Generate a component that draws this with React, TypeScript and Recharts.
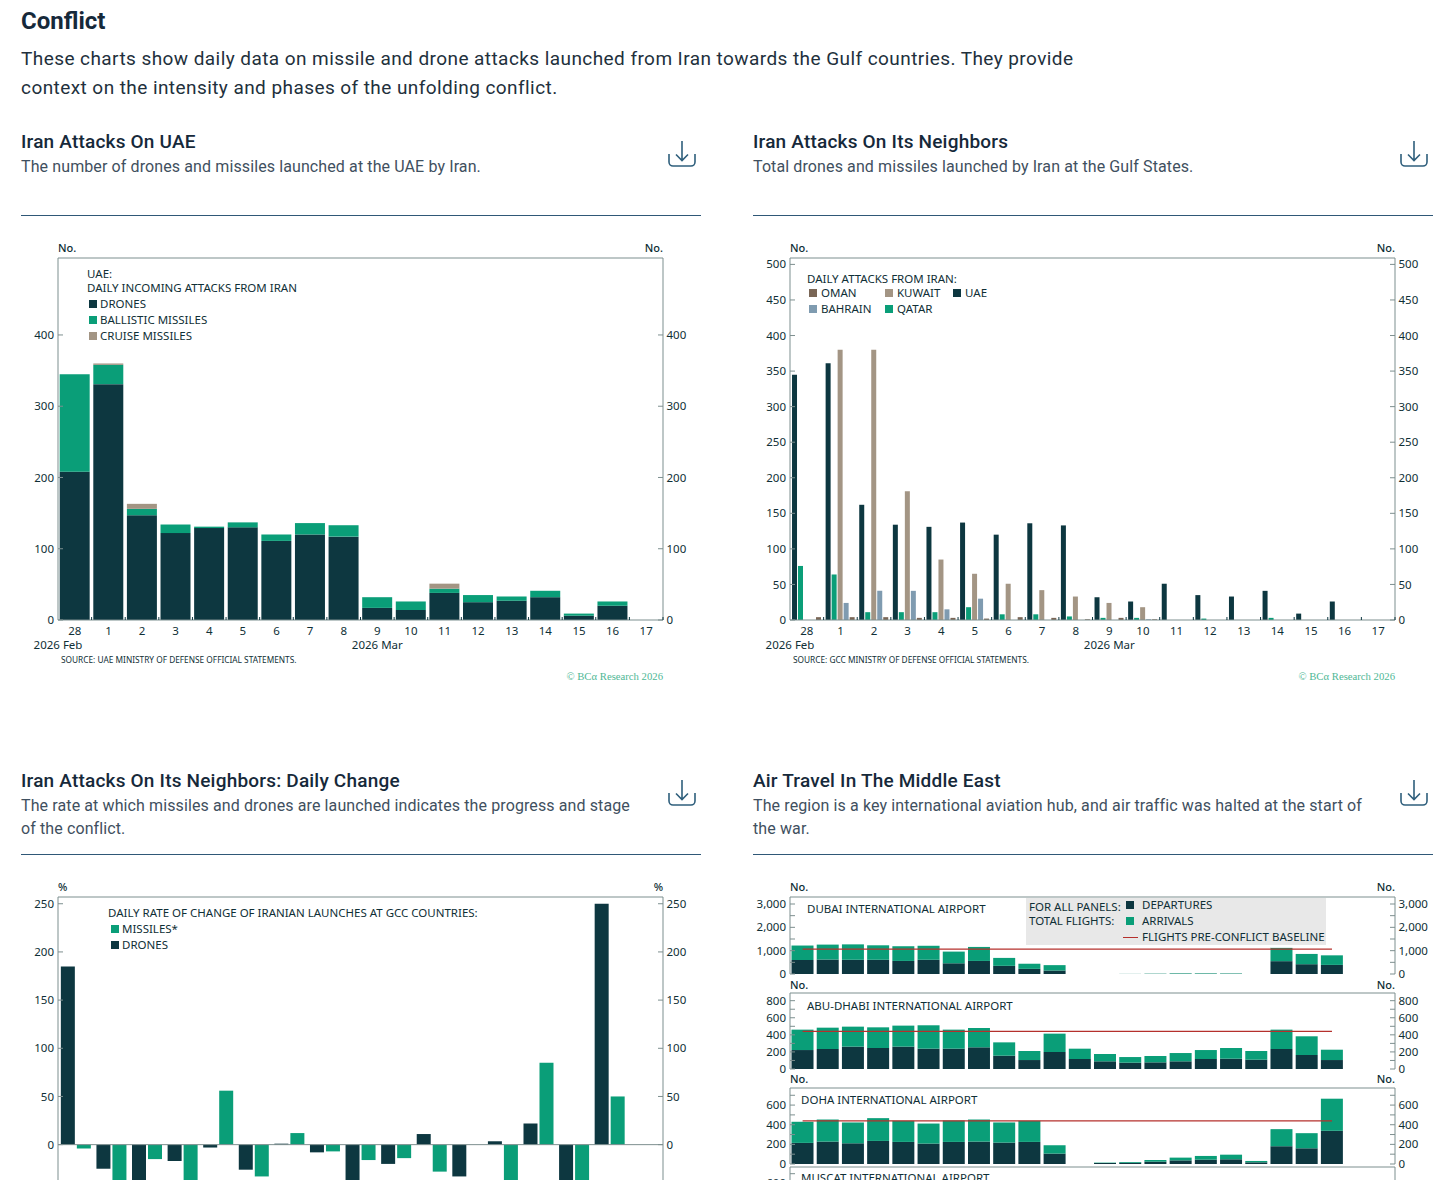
import { ComposedChart, Bar, Line, XAxis, YAxis, ReferenceLine } from 'recharts';
import type { ReactNode } from 'react';

const DARK = '#0d3740';
const GREEN = '#0a9e78';
const TAUPE = '#a39584';
const BROWN = '#7a6656';
const STEEL = '#7f9bb0';
const RED = '#b5302c';
const AXIS = '#7d8f8f';
const INK = '#0f2f36';
const CHART_FONT = '"Noto Sans", sans-serif';
const PAGE_FONT = 'Roboto, sans-serif';

const days = ['28', '1', '2', '3', '4', '5', '6', '7', '8', '9', '10', '11', '12', '13', '14', '15', '16', '17'];
const yearLabels: Record<string, string> = { '28': '2026 Feb', '9': '2026 Mar' };

// UAE panel
const uaeDrones = [208, 331, 147, 122, 129, 130, 111, 120, 117, 17, 14, 38, 25, 27, 32, 6, 20, 0];
const uaeBallistic = [137, 27, 9, 12, 2, 7, 9, 16, 16, 15, 12, 6, 10, 6, 9, 3, 6, 0];
const uaeCruise = [0, 2, 7, 0, 0, 0, 0, 0, 0, 0, 0, 7, 0, 0, 0, 0, 0, 0];

// neighbors panel
const gccUae = [345, 361, 162, 134, 131, 137, 120, 136, 133, 32, 26, 51, 35, 33, 41, 9, 26, 0];
const gccQatar = [76, 64, 11, 11, 11, 18, 8, 8, 5, 3, 3, 0, 2, 0, 3, 0, 0, 0];
const gccKuwait = [0, 380, 380, 181, 85, 65, 51, 42, 33, 24, 18, 0, 0, 0, 0, 0, 0, 0];
const gccBahrain = [0, 24, 41, 41, 15, 30, 0, 0, 0, 0, 1, 0, 0, 0, 0, 0, 0, 0];
const gccOman = [4, 4, 4, 3, 3, 2, 4, 3, 1, 3, 1, 0, 0, 0, 0, 0, 0, 0];

// daily change panel, the values below -36 are cut off by the page
const rateDays = days.slice(1);
const rateDrones = [185, -25, -40, -17, -3, -26, 1, -8, -40, -20, 11, -33, 3.5, 22, -40, 250, null];
const rateMissiles = [-4, -40, -15, -40, 56, -33, 12, -7, -16, -14, -28, 0, -40, 85, -40, 50, null];

// air travel panels
const flightDays = Array.from({ length: 24 }, (_, i) => String(i + 1));
const dubaiDep = [600, 620, 610, 610, 560, 610, 460, 560, 350, 220, 150, 0, 0, 2, 5, 10, 10, 8, 0, 550, 420, 390];
const dubaiArr = [620, 640, 660, 620, 630, 600, 500, 600, 340, 220, 230, 0, 0, 3, 10, 20, 20, 17, 0, 570, 440, 410];
const abuDep = [222, 234, 262, 246, 262, 238, 238, 254, 156, 105, 199, 117, 90, 74, 78, 90, 117, 121, 109, 234, 164, 105];
const abuArr = [239, 250, 234, 242, 246, 274, 223, 226, 156, 106, 215, 121, 86, 66, 74, 97, 105, 125, 102, 227, 219, 121];
const dohaDep = [215, 228, 211, 235, 225, 208, 225, 228, 218, 225, 106, 0, 10, 12, 24, 37, 44, 48, 17, 181, 160, 338];
const dohaArr = [215, 225, 212, 232, 215, 204, 218, 225, 205, 215, 85, 0, 4, 8, 17, 28, 38, 47, 14, 174, 154, 327];

const uaeTicks = [0, 100, 200, 300, 400];
const gccTicks = [0, 50, 100, 150, 200, 250, 300, 350, 400, 450, 500];
const rateTicks = [0, 50, 100, 150, 200, 250];
const dubaiTicks = [0, 500, 1000, 1500, 2000, 2500, 3000];
const abuTicks = [0, 100, 200, 300, 400, 500, 600, 700, 800];
const dohaTicks = [0, 100, 200, 300, 400, 500, 600, 700];

const PLOT_W = 605;
const GUTTER = 40;
const LEAD = 10;

function T({ x, y, size = 11, color = INK, font = CHART_FONT, weight = 400, right, spacing, children }: {
  x: number; y: number; size?: number; color?: string; font?: string; weight?: number;
  right?: boolean; spacing?: number; children: ReactNode;
}) {
  return (
    <div style={{
      position: 'absolute',
      top: y,
      left: right ? undefined : x,
      right: right ? 1456 - x : undefined,
      transform: 'translateY(-50%)',
      fontFamily: font,
      fontSize: size,
      fontWeight: weight,
      color,
      lineHeight: 1,
      letterSpacing: spacing,
      whiteSpace: 'nowrap',
    }}>
      {children}
    </div>
  );
}

// legend and panel captions inside the plots
function Label({ x, y, children }: { x: number; y: number; children: ReactNode }) {
  return <T x={x} y={y} size={11.5}>{children}</T>;
}

function LegendRow({ x, y, color, label, gap = 12 }: { x: number; y: number; color: string; label: string; gap?: number }) {
  return (
    <>
      <div style={{ position: 'absolute', left: x, top: y - 4, width: 8, height: 8, background: color }} />
      <Label x={x + gap} y={y}>{label}</Label>
    </>
  );
}

function Unit({ x, y, right, children }: { x: number; y: number; right?: boolean; children: ReactNode }) {
  return <T x={x} y={y - 0.5} right={right} weight={500}>{children}</T>;
}

function DownloadIcon({ x, y }: { x: number; y: number }) {
  return (
    <svg style={{ position: 'absolute', left: x, top: y }} width={28} height={27} viewBox="0 0 28 27" fill="none" stroke="#2f5f7c" strokeWidth={1.6}>
      <path d="M1 14v8a4 4 0 0 0 4 4h18a4 4 0 0 0 4-4v-8" />
      <path d="M14 1v19M8 14.5l6 6 6-6" />
    </svg>
  );
}

function Header({ x, y, title, lines }: { x: number; y: number; title: string; lines: string[] }) {
  return (
    <>
      <T x={x} y={y} font={PAGE_FONT} size={19} weight={500} color="#16293a" spacing={0.2}>{title}</T>
      {lines.map((line, i) => (
        <T key={line} x={x} y={y + 26 + i * 23} font={PAGE_FONT} size={16} color="#3f5060" spacing={0.11}>{line}</T>
      ))}
      <DownloadIcon x={x + 647} y={y - 1} />
      <div style={{ position: 'absolute', left: x, top: y + 74, width: 680, height: 1, background: '#2f5877' }} />
    </>
  );
}

function DayTick({ x, y, payload, band }: any) {
  const year = yearLabels[payload.value];
  const yearX = payload.value === '28' ? x - band / 2 : x;
  return (
    <g fontFamily={CHART_FONT} fontSize={11.5} fill={INK}>
      <line x1={x + band / 2} x2={x + band / 2} y1={y} y2={y - 3} stroke={DARK} />
      <text x={x} y={y + 14.5} textAnchor="middle">{payload.value}</text>
      {year && <text x={yearX} y={y + 29} textAnchor="middle">{year}</text>}
    </g>
  );
}

function formatMajor(step: number) {
  return (v: number) => (v % step === 0 ? v.toLocaleString('en-US') : '');
}

// left and right value axes with ticks pointing into the plot, plus the top edge of the frame.
// The right axis only draws its ticks when a series is bound to it, hence the unstroked line.
function frameAxes(bottom: number, top: number, ticks: number[], hiddenKey: string, format?: (v: number) => string) {
  const shared = {
    type: 'number' as const,
    domain: [bottom, top] as [number, number],
    ticks,
    interval: 0 as const,
    width: GUTTER,
    tickSize: -5,
    tickMargin: 9,
    axisLine: { stroke: AXIS },
    tickLine: { stroke: AXIS },
    tick: { fontFamily: CHART_FONT, fontSize: 11.5, fill: INK },
    tickFormatter: format,
  };
  return [
    <YAxis key="l" yAxisId="l" orientation="left" {...shared} />,
    <YAxis key="r" yAxisId="r" orientation="right" {...shared} tickMargin={8.5} />,
    <ReferenceLine key="t" yAxisId="l" y={top} stroke={AXIS} />,
    <Line key="h" yAxisId="r" dataKey={hiddenKey} stroke="none" dot={false} activeDot={false} legendType="none" isAnimationActive={false} />,
  ];
}

function UaeChart() {
  const data = days.map((day, i) => ({ day, drones: uaeDrones[i], ballistic: uaeBallistic[i], cruise: uaeCruise[i] }));
  const band = PLOT_W / days.length;
  return (
    <div style={{ position: 'absolute', left: 58 - GUTTER, top: 258 - LEAD }}>
      <ComposedChart width={PLOT_W + 2 * GUTTER} height={LEAD + 362 + 40} data={data} barCategoryGap="5%"
        margin={{ top: LEAD, right: 0, bottom: 0, left: 0 }}>
        <XAxis dataKey="day" height={40} interval={0} tickSize={0} tickMargin={0} tickLine={false} axisLine={{ stroke: AXIS }}
          tick={(p: any) => <DayTick {...p} band={band} />} />
        {frameAxes(0, 508, uaeTicks, 'drones')}
        <Bar dataKey="drones" yAxisId="l" stackId="a" fill={DARK} isAnimationActive={false} />
        <Bar dataKey="ballistic" yAxisId="l" stackId="a" fill={GREEN} isAnimationActive={false} />
        <Bar dataKey="cruise" yAxisId="l" stackId="a" fill={TAUPE} isAnimationActive={false} />
      </ComposedChart>
    </div>
  );
}

function NeighborsChart() {
  const data = days.map((day, i) => ({
    day, uae: gccUae[i], qatar: gccQatar[i], kuwait: gccKuwait[i], bahrain: gccBahrain[i], oman: gccOman[i],
  }));
  const band = PLOT_W / days.length;
  return (
    <div style={{ position: 'absolute', left: 790 - GUTTER, top: 258 - LEAD }}>
      <ComposedChart width={PLOT_W + 2 * GUTTER} height={LEAD + 362 + 40} data={data} barCategoryGap="6%" barGap={1}
        margin={{ top: LEAD, right: 0, bottom: 0, left: 0 }}>
        <XAxis dataKey="day" height={40} interval={0} tickSize={0} tickMargin={0} tickLine={false} axisLine={{ stroke: AXIS }}
          tick={(p: any) => <DayTick {...p} band={band} />} />
        {frameAxes(0, 509, gccTicks, 'uae')}
        <Bar dataKey="uae" yAxisId="l" fill={DARK} isAnimationActive={false} />
        <Bar dataKey="qatar" yAxisId="l" fill={GREEN} isAnimationActive={false} />
        <Bar dataKey="kuwait" yAxisId="l" fill={TAUPE} isAnimationActive={false} />
        <Bar dataKey="bahrain" yAxisId="l" fill={STEEL} isAnimationActive={false} />
        <Bar dataKey="oman" yAxisId="l" fill={BROWN} isAnimationActive={false} />
      </ComposedChart>
    </div>
  );
}

function RateChart() {
  const data = rateDays.map((day, i) => ({ day, drones: rateDrones[i], missiles: rateMissiles[i] }));
  return (
    <div style={{ position: 'absolute', left: 58 - GUTTER, top: 897 - LEAD }}>
      <ComposedChart width={PLOT_W + 2 * GUTTER} height={LEAD + 344} data={data} barCategoryGap="8%" barGap={2}
        margin={{ top: LEAD, right: 0, bottom: 0, left: 0 }}>
        <XAxis dataKey="day" hide />
        {frameAxes(-100, 257, rateTicks, 'drones')}
        <ReferenceLine yAxisId="l" y={0} stroke={AXIS} />
        <Bar dataKey="drones" yAxisId="l" fill={DARK} isAnimationActive={false} />
        <Bar dataKey="missiles" yAxisId="l" fill={GREEN} isAnimationActive={false} />
      </ComposedChart>
    </div>
  );
}

function AirportChart({ top, height, max, ticks, step, dep, arr, baseline }: {
  top: number; height: number; max: number; ticks: number[]; step: number;
  dep?: number[]; arr?: number[]; baseline?: number;
}) {
  const data = flightDays.map((day, i) => ({
    day,
    dep: dep?.[i],
    arr: arr?.[i],
    base: dep && i < dep.length ? baseline : undefined,
  }));
  return (
    <div style={{ position: 'absolute', left: 790 - GUTTER, top: top - LEAD }}>
      <ComposedChart width={PLOT_W + 2 * GUTTER} height={LEAD + height + 10} data={data} barCategoryGap="6%"
        margin={{ top: LEAD, right: 0, bottom: 10, left: 0 }}>
        <XAxis dataKey="day" height={0} interval={0} tick={false} tickLine={false} axisLine={{ stroke: AXIS }} />
        {frameAxes(0, max, ticks, 'base', formatMajor(step))}
        <Bar dataKey="dep" yAxisId="l" stackId="a" fill={DARK} isAnimationActive={false} />
        <Bar dataKey="arr" yAxisId="l" stackId="a" fill={GREEN} isAnimationActive={false} />
        <Line dataKey="base" yAxisId="l" stroke={RED} strokeWidth={1.2} dot={false} connectNulls={false} isAnimationActive={false} />
      </ComposedChart>
    </div>
  );
}

export default function App() {
  return (
    <div style={{ position: 'absolute', left: 0, top: 0, width: 1456, height: 1180, overflow: 'hidden', background: '#fff' }}>
      <T x={21} y={21} font={PAGE_FONT} size={24} weight={700} color="#16293a">Conflict</T>
      <T x={21} y={58} font={PAGE_FONT} size={19} color="#22303c" spacing={0.43}>These charts show daily data on missile and drone attacks launched from Iran towards the Gulf countries. They provide</T>
      <T x={21} y={87} font={PAGE_FONT} size={19} color="#22303c" spacing={0.43}>context on the intensity and phases of the unfolding conflict.</T>

      <Header x={21} y={141} title="Iran Attacks On UAE" lines={['The number of drones and missiles launched at the UAE by Iran.']} />
      <Header x={753} y={141} title="Iran Attacks On Its Neighbors" lines={['Total drones and missiles launched by Iran at the Gulf States.']} />
      <Header x={21} y={780} title="Iran Attacks On Its Neighbors: Daily Change" lines={['The rate at which missiles and drones are launched indicates the progress and stage', 'of the conflict.']} />
      <Header x={753} y={780} title="Air Travel In The Middle East" lines={['The region is a key international aviation hub, and air traffic was halted at the start of', 'the war.']} />

      <UaeChart />
      <NeighborsChart />
      <RateChart />
      <AirportChart top={897} height={77} max={3300} ticks={dubaiTicks} step={1000} dep={dubaiDep} arr={dubaiArr} baseline={1070} />
      <AirportChart top={993} height={76} max={890} ticks={abuTicks} step={200} dep={abuDep} arr={abuArr} baseline={441} />
      <AirportChart top={1088} height={76} max={774} ticks={dohaTicks} step={200} dep={dohaDep} arr={dohaArr} baseline={440} />
      <AirportChart top={1167} height={70} max={774} ticks={dohaTicks} step={200} />

      {/* UAE panel text */}
      <Unit x={58} y={247}>No.</Unit>
      <Unit x={663} y={247} right>No.</Unit>
      <Label x={87} y={274}>UAE:</Label>
      <Label x={87} y={288}>DAILY INCOMING ATTACKS FROM IRAN</Label>
      <LegendRow x={89} y={304} color={DARK} label="DRONES" gap={11} />
      <LegendRow x={89} y={320} color={GREEN} label="BALLISTIC MISSILES" gap={11} />
      <LegendRow x={89} y={336} color={TAUPE} label="CRUISE MISSILES" gap={11} />
      <T x={61} y={660} size={8.3}>SOURCE: UAE MINISTRY OF DEFENSE OFFICIAL STATEMENTS.</T>
      <T x={663} y={676} right size={10.7} font="'Liberation Serif', serif" color="#4fb896">© BCα Research 2026</T>

      {/* neighbors panel text */}
      <Unit x={790} y={247}>No.</Unit>
      <Unit x={1395} y={247} right>No.</Unit>
      <Label x={807} y={279}>DAILY ATTACKS FROM IRAN:</Label>
      <LegendRow x={809} y={293} color={BROWN} label="OMAN" />
      <LegendRow x={885} y={293} color={TAUPE} label="KUWAIT" />
      <LegendRow x={953} y={293} color={DARK} label="UAE" />
      <LegendRow x={809} y={309} color={STEEL} label="BAHRAIN" />
      <LegendRow x={885} y={309} color={GREEN} label="QATAR" />
      <T x={793} y={660} size={8.3}>SOURCE: GCC MINISTRY OF DEFENSE OFFICIAL STATEMENTS.</T>
      <T x={1395} y={676} right size={10.7} font="'Liberation Serif', serif" color="#4fb896">© BCα Research 2026</T>

      {/* daily change panel text */}
      <Unit x={58} y={886}>%</Unit>
      <Unit x={663} y={886} right>%</Unit>
      <Label x={108} y={913}>DAILY RATE OF CHANGE OF IRANIAN LAUNCHES AT GCC COUNTRIES:</Label>
      <LegendRow x={111} y={929} color={GREEN} label="MISSILES*" gap={11} />
      <LegendRow x={111} y={945} color={DARK} label="DRONES" gap={11} />

      {/* air travel panel text */}
      <div style={{ position: 'absolute', left: 1026, top: 898, width: 300, height: 47, background: '#e8e8e8' }} />
      <Unit x={790} y={886}>No.</Unit>
      <Unit x={1395} y={886} right>No.</Unit>
      <Unit x={790} y={984}>No.</Unit>
      <Unit x={1395} y={984} right>No.</Unit>
      <Unit x={790} y={1078}>No.</Unit>
      <Unit x={1395} y={1078} right>No.</Unit>
      <Label x={807} y={909}>DUBAI INTERNATIONAL AIRPORT</Label>
      <Label x={807} y={1006}>ABU-DHABI INTERNATIONAL AIRPORT</Label>
      <Label x={801} y={1100}>DOHA INTERNATIONAL AIRPORT</Label>
      <Label x={801} y={1178}>MUSCAT INTERNATIONAL AIRPORT</Label>
      <Label x={1029} y={907}>FOR ALL PANELS:</Label>
      <Label x={1029} y={921}>TOTAL FLIGHTS:</Label>
      <LegendRow x={1126} y={905} color={DARK} label="DEPARTURES" gap={16} />
      <LegendRow x={1126} y={921} color={GREEN} label="ARRIVALS" gap={16} />
      <div style={{ position: 'absolute', left: 1123, top: 937, width: 15, height: 1, background: RED }} />
      <Label x={1142} y={937}>FLIGHTS PRE-CONFLICT BASELINE</Label>
    </div>
  );
}
